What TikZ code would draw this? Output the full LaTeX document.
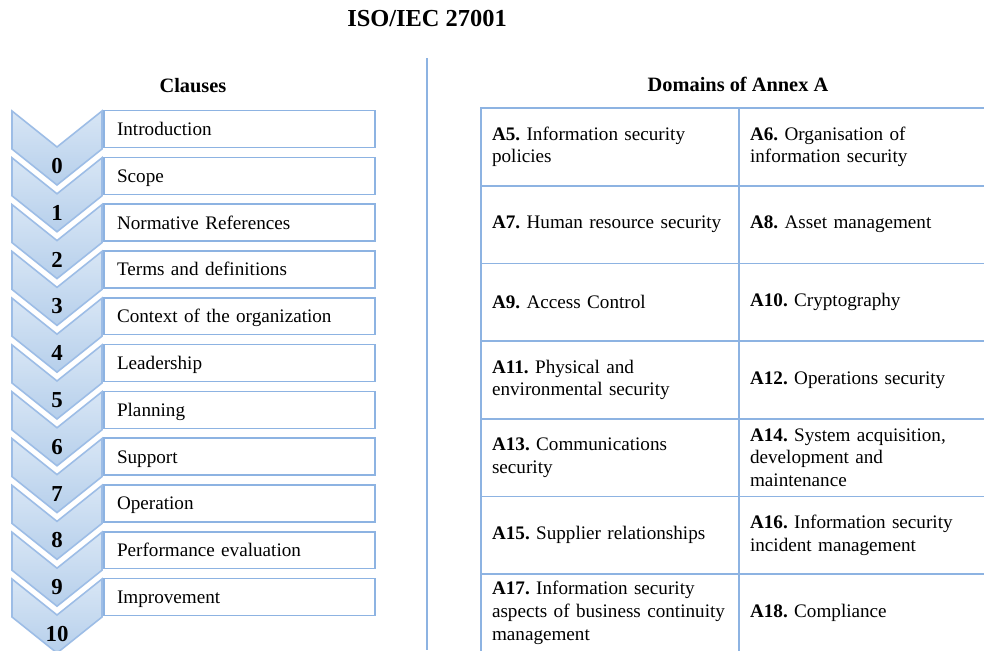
\documentclass[tikz,border=0pt]{standalone}
\usepackage{fontspec}
\setmainfont{Liberation Serif}
\usepackage{tikz}
\usetikzlibrary{positioning, calc}
\definecolor{lineblue}{HTML}{8DB3E2}
\definecolor{chevline}{HTML}{9DBDE6}
\definecolor{chevtop}{HTML}{D8E6F5}
\definecolor{chevbot}{HTML}{B6CFEB}
\frenchspacing

\begin{document}
\begin{tikzpicture}[
        x=0.02cm, y=-0.02cm,
        chevron/.style={draw=chevline, line width=0.9pt, top color=chevtop, bottom color=chevbot, preaction={draw=white, line width=3pt}},
        clausenum/.style={font=\fontsize{13}{15}\selectfont\bfseries},
        clausebox/.style={rectangle, draw=lineblue, line width=0.9pt, fill=white, minimum width=5.42cm, minimum height=0.74cm, text width=4.9cm, text height=1.9ex, text depth=0.3ex, inner xsep=0.26cm, align=left, font=\fontsize{10.9}{13}\selectfont},
        domaincell/.style={rectangle, draw=lineblue, line width=1pt, minimum width=5.16cm, minimum height=1.554cm, text width=4.72cm, inner xsep=0.22cm, align=left, font=\fontsize{10.9}{13}\selectfont},
        heading/.style={font=\fontsize{11.6}{14}\selectfont\bfseries}
    ]
    \useasboundingbox (0,0) rectangle (984,650);

    % Titles
    \node[font=\fontsize{13.9}{16}\selectfont\bfseries] (title) at (427,18) {ISO/IEC 27001};
    \node[heading] (clauses) at (193,86) {Clauses};
    \node[heading] (annexa) at (738,84) {Domains of Annex A};

    % Separator
    \coordinate (septop) at (427,58);
    \coordinate (sepbot) at (427,650);
    \draw[lineblue, line width=1.2pt] (septop) -- (sepbot);

    % Clauses (chevron + box)
    \foreach \i/\clause in {0/Introduction, 1/Scope, 2/Normative References, 3/Terms and definitions, 4/Context of the organization, 5/Leadership, 6/Planning, 7/Support, 8/Operation, 9/Performance evaluation, 10/Improvement} {
        \pgfmathsetmacro\t{111+46.8*\i}
        \draw[chevron] (12,\t) -- (57,{\t+36}) -- (102,\t) -- (102,{\t+38}) -- (57,{\t+74}) -- (12,{\t+38}) -- cycle;
        \node[clausenum] (num\i) at (57,{\t+55}) {\i};
        \node[clausebox] (box\i) at (239.5,{\t+18}) {\clause};
    }

    % Annex A domains
    \foreach \r/\ca/\cb in {
        0/{\textbf{A5.} Information security\\policies}/{\textbf{A6.} Organisation of\\information security},
        1/{\textbf{A7.} Human resource security}/{\textbf{A8.} Asset management},
        2/{\textbf{A9.} Access Control}/{\textbf{A10.} Cryptography},
        3/{\textbf{A11.} Physical and\\environmental security}/{\textbf{A12.} Operations security},
        4/{\textbf{A13.} Communications\\security}/{\textbf{A14.} System acquisition,\\development and\\maintenance},
        5/{\textbf{A15.} Supplier relationships}/{\textbf{A16.} Information security\\incident management},
        6/{\textbf{A17.} Information security\\aspects of business continuity\\management}/{\textbf{A18.} Compliance}} {
        \node[domaincell] (cellL\r) at (610,{108+77.7*\r+38.85}) {\ca};
        \node[domaincell] (cellR\r) at (868,{108+77.7*\r+38.85}) {\cb};
    }
\end{tikzpicture}
\end{document}
